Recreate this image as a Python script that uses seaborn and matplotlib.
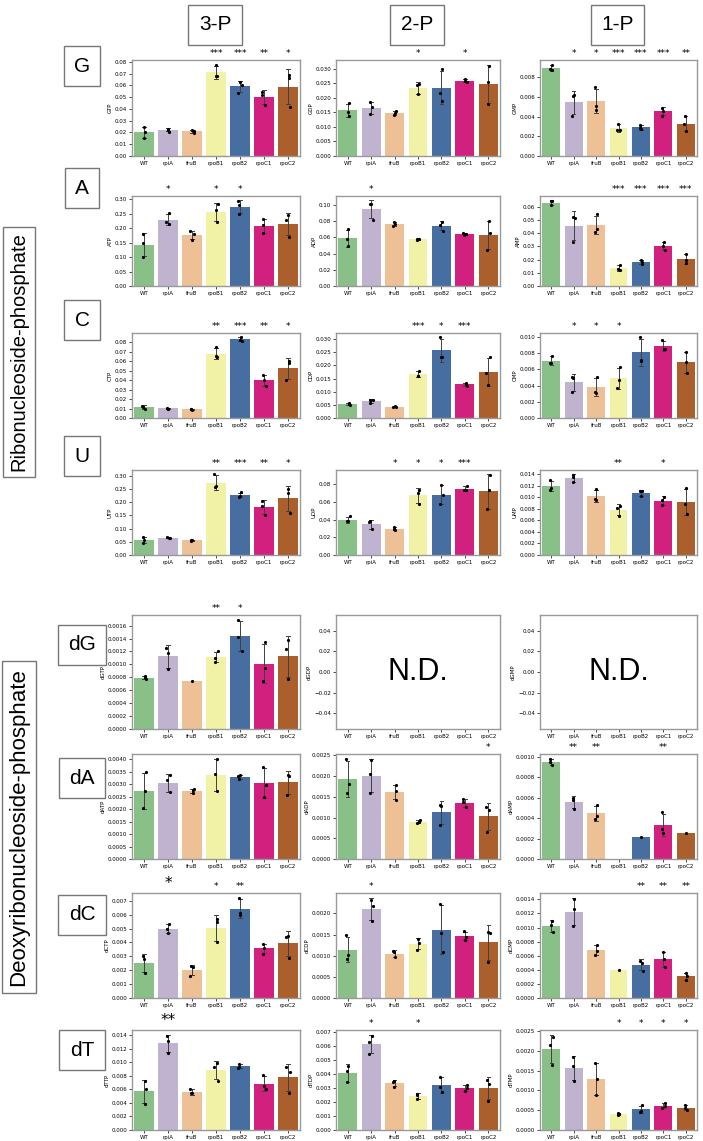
import numpy as np
import pandas as pd
import matplotlib
matplotlib.use('Agg')
import matplotlib.pyplot as plt
import seaborn as sns
from matplotlib.ticker import MultipleLocator

strains = ['WT', 'rpiA', 'fruB', 'rpoB1', 'rpoB2', 'rpoC1', 'rpoC2']

# replicate values per strain
GTP = [[0.0245, 0.0205, 0.0152], [0.0232, 0.0225, 0.0208], [0.0222, 0.0212, 0.0196], [0.0778, 0.0678, 0.0680],
       [0.0632, 0.0605, 0.0538], [0.0545, 0.0520, 0.0432], [0.0690, 0.0660, 0.0420]]
GDP = [[0.0183, 0.0150, 0.0138], [0.0185, 0.0168, 0.0143], [0.0155, 0.0148, 0.0141], [0.0246, 0.0247, 0.0212],
       [0.0300, 0.0216, 0.0190], [0.0266, 0.0258, 0.0255], [0.0311, 0.0256, 0.0180]]
GMP = [[0.0093, 0.0088, 0.0087], [0.0062, 0.0061, 0.0041], [0.0070, 0.0051, 0.0047], [0.0033, 0.0026, 0.0026],
       [0.0032, 0.0028, 0.0027], [0.0049, 0.0046, 0.0041], [0.0041, 0.0033, 0.0025]]
ATP = [[0.178, 0.150, 0.101], [0.252, 0.222, 0.214], [0.190, 0.178, 0.160], [0.283, 0.262, 0.220],
       [0.292, 0.280, 0.250], [0.230, 0.212, 0.182], [0.246, 0.226, 0.170]]
ADP = [[0.070, 0.058, 0.049], [0.1015, 0.101, 0.082], [0.079, 0.077, 0.074], [0.058, 0.0575, 0.057],
       [0.079, 0.076, 0.068], [0.065, 0.064, 0.063], [0.080, 0.065, 0.045]]
AMP = [[0.064, 0.064, 0.061], [0.052, 0.0515, 0.033], [0.054, 0.043, 0.041], [0.016, 0.0125, 0.012],
       [0.0195, 0.018, 0.0165], [0.033, 0.030, 0.0275], [0.024, 0.020, 0.017]]
CTP = [[0.013, 0.012, 0.009], [0.0105, 0.010, 0.0098], [0.010, 0.0092, 0.0087], [0.075, 0.065, 0.064],
       [0.0855, 0.082, 0.0815], [0.0455, 0.040, 0.0335], [0.060, 0.058, 0.040]]
CDP = [[0.0058, 0.0055, 0.0049], [0.0068, 0.0068, 0.0056], [0.0045, 0.0043, 0.0042], [0.0180, 0.0161, 0.0161],
       [0.0308, 0.0233, 0.0233], [0.0133, 0.0130, 0.0122], [0.0231, 0.0170, 0.0124]]
CMP = [[0.0077, 0.0068, 0.0068], [0.0051, 0.0049, 0.0032], [0.0051, 0.0032, 0.0031], [0.0063, 0.0047, 0.0037],
       [0.0100, 0.0072, 0.0071], [0.0096, 0.0085, 0.0085], [0.0082, 0.0069, 0.0056]]
UTP = [[0.068, 0.058, 0.045], [0.069, 0.066, 0.064], [0.057, 0.055, 0.053], [0.307, 0.260, 0.257],
       [0.238, 0.225, 0.220], [0.205, 0.185, 0.153], [0.250, 0.234, 0.161]]
UDP = [[0.044, 0.038, 0.038], [0.038, 0.037, 0.029], [0.0315, 0.0295, 0.0285], [0.074, 0.070, 0.058],
       [0.079, 0.068, 0.058], [0.078, 0.074, 0.073], [0.091, 0.073, 0.052]]
UMP = [[0.0130, 0.0116, 0.0112], [0.0139, 0.0135, 0.0126], [0.0114, 0.0096, 0.0095], [0.0085, 0.0082, 0.0067],
       [0.0111, 0.0110, 0.0102], [0.0101, 0.0095, 0.0086], [0.0116, 0.0088, 0.0071]]
dGTP = [[0.00082, 0.00080, 0.00077], [0.00126, 0.00118, 0.00093], [0.00075], [0.00120, 0.00110, 0.00104],
        [0.00168, 0.00143, 0.00121], [0.00134, 0.00094, 0.00075], [0.00137, 0.00124, 0.00077]]
dATP = [[0.00348, 0.00272, 0.00203], [0.00336, 0.00316, 0.00267], [0.00280, 0.00275, 0.00265],
        [0.00400, 0.00340, 0.00272], [0.00336, 0.00334, 0.00320], [0.00368, 0.00297, 0.00249],
        [0.00336, 0.00334, 0.00255]]
dADP = [[0.00241, 0.00181, 0.00158], [0.00238, 0.00206, 0.00159], [0.00178, 0.00163, 0.00143],
        [0.00093, 0.00090, 0.00087], [0.00129, 0.00128, 0.00081], [0.00145, 0.00137, 0.00125],
        [0.00126, 0.00118, 0.00065]]
dAMP = [[0.00098, 0.00095, 0.00092], [0.00060, 0.00058, 0.00049], [0.00053, 0.00042, 0.00039], [],
        [0.00022], [0.00046, 0.00029, 0.00025], [0.00025]]
dCTP = [[0.0030, 0.0028, 0.0018], [0.0053, 0.0050, 0.0047], [0.0023, 0.0022, 0.0016], [0.0057, 0.0055, 0.0040],
        [0.0072, 0.0061, 0.0060], [0.0039, 0.0036, 0.0032], [0.0045, 0.0044, 0.0029]]
dCDP = [[0.00148, 0.00102, 0.00093], [0.00232, 0.00218, 0.00182], [0.00110, 0.00109, 0.00096],
        [0.00140, 0.00130, 0.00114], [0.00223, 0.00153, 0.00108], [0.00158, 0.00145, 0.00138],
        [0.00156, 0.00154, 0.00084]]
dCMP = [[0.00109, 0.00104, 0.00093], [0.00140, 0.00126, 0.00102], [0.00075, 0.00067, 0.00061], [0.00040],
        [0.00053, 0.00050, 0.00038], [0.00065, 0.00056, 0.00044], [0.00035, 0.00031, 0.00026]]
dTTP = [[0.0072, 0.0061, 0.0038], [0.0139, 0.0131, 0.0114], [0.0061, 0.0054, 0.0054], [0.0099, 0.0093, 0.0073],
        [0.0098, 0.0093, 0.0092], [0.0081, 0.0065, 0.0060], [0.0093, 0.0085, 0.0055]]
dTDP = [[0.0046, 0.0042, 0.0034], [0.0067, 0.0063, 0.0054], [0.0035, 0.0034, 0.0031], [0.0026, 0.0025, 0.0022],
        [0.0038, 0.0031, 0.0027], [0.0032, 0.0030, 0.0028], [0.0036, 0.0033, 0.0021]]
dTMP = [[0.00235, 0.00215, 0.00165], [0.00186, 0.00161, 0.00124], [0.00169, 0.00130, 0.00089],
        [0.00044, 0.00040, 0.00038], [0.00063, 0.00048, 0.00046], [0.00069, 0.00060, 0.00056],
        [0.00064, 0.00056, 0.00050]]

# significance marks above each strain
GTP_sig = ['', '', '', '***', '***', '**', '*']
GDP_sig = ['', '', '', '*', '', '*', '']
GMP_sig = ['', '*', '*', '***', '***', '***', '**']
ATP_sig = ['', '*', '', '*', '*', '', '']
ADP_sig = ['', '*', '', '', '', '', '']
AMP_sig = ['', '', '', '***', '***', '***', '***']
CTP_sig = ['', '', '', '**', '***', '**', '*']
CDP_sig = ['', '', '', '***', '*', '***', '']
CMP_sig = ['', '*', '*', '*', '', '', '']
UTP_sig = ['', '', '', '**', '***', '**', '*']
UDP_sig = ['', '', '*', '*', '*', '***', '']
UMP_sig = ['', '', '', '**', '', '*', '']
dGTP_sig = ['', '', '', '**', '*', '', '']
dATP_sig = ['', '', '', '', '', '', '']
dADP_sig = ['', '', '', '', '', '', '*']
dAMP_sig = ['', '**', '**', '', '', '**', '']
dCTP_sig = ['', '*', '', '*', '**', '', '']
dCDP_sig = ['', '*', '', '', '', '', '']
dCMP_sig = ['', '', '', '', '**', '**', '**']
dTTP_sig = ['', '**', '', '', '', '', '']
dTDP_sig = ['', '*', '', '*', '', '', '']
dTMP_sig = ['', '', '', '*', '*', '*', '*']

big_marks = {('dCTP', 1), ('dTTP', 1)}

row_names = ['G', 'A', 'C', 'U', 'dG', 'dA', 'dC', 'dT']
col_names = ['3-P', '2-P', '1-P']

# (label, data, marks, tick step) per row, per column; None = not detected
panels = [
    [('GTP', GTP, GTP_sig, 0.01), ('GDP', GDP, GDP_sig, 0.005), ('GMP', GMP, GMP_sig, 0.002)],
    [('ATP', ATP, ATP_sig, 0.05), ('ADP', ADP, ADP_sig, 0.02), ('AMP', AMP, AMP_sig, 0.01)],
    [('CTP', CTP, CTP_sig, 0.01), ('CDP', CDP, CDP_sig, 0.005), ('CMP', CMP, CMP_sig, 0.002)],
    [('UTP', UTP, UTP_sig, 0.05), ('UDP', UDP, UDP_sig, 0.02), ('UMP', UMP, UMP_sig, 0.002)],
    [('dGTP', dGTP, dGTP_sig, 0.0002), ('dGDP', None, None, 0.02), ('dGMP', None, None, 0.02)],
    [('dATP', dATP, dATP_sig, 0.0005), ('dADP', dADP, dADP_sig, 0.0005), ('dAMP', dAMP, dAMP_sig, 0.0002)],
    [('dCTP', dCTP, dCTP_sig, 0.001), ('dCDP', dCDP, dCDP_sig, 0.0005), ('dCMP', dCMP, dCMP_sig, 0.0002)],
    [('dTTP', dTTP, dTTP_sig, 0.002), ('dTDP', dTDP, dTDP_sig, 0.001), ('dTMP', dTMP, dTMP_sig, 0.0005)],
]

W, H = 703, 1141
col_left = [132, 336, 540]
col_width = [168, 164, 157]
row_top = [60, 196, 333, 470, 615, 754, 893, 1030]
row_height = [96, 90, 85, 85, 114, 105, 105, 100]
label_y = [66, 188, 320, 456, 645, 778, 915, 1050]

np.random.seed(0)
fig = plt.figure(figsize=(W / 100, H / 100), dpi=100)


def add_ax(left, top, width, height):
    return fig.add_axes([left / W, 1 - (top + height) / H, width / W, height / H])


def style_ax(ax, label, step):
    ax.set_xlabel(None)
    ax.set_ylabel(label, fontsize=4, labelpad=1.5)
    ax.tick_params(labelsize=4, length=2, width=0.5, pad=1.5)
    ax.yaxis.set_major_locator(MultipleLocator(step))
    for sp in ax.spines.values():
        sp.set_color('#999999')
        sp.set_linewidth(1.0)


def draw_panel(ax, label, values, marks, step):
    df = pd.DataFrame([(s, v) for s, vals in zip(strains, values) for v in vals],
                      columns=['strain', 'value'])
    sns.barplot(data=df, x='strain', y='value', hue='strain', order=strains, hue_order=strains,
                palette='Accent', errorbar='sd', capsize=0.15,
                err_kws={'linewidth': 0.7, 'color': '0.25'}, legend=False, ax=ax)
    sns.stripplot(data=df, x='strain', y='value', order=strains, color='black',
                  size=2.3, jitter=0.08, ax=ax)
    ax.set_ylim(0, None)
    style_ax(ax, label, step)
    for i, m in enumerate(marks):
        if m:
            big = (label, i) in big_marks
            ax.annotate(m, xy=(i, 1), xycoords=ax.get_xaxis_transform(),
                        xytext=(0, 1.5), textcoords='offset points',
                        ha='center', va='bottom', fontsize=11 if big else 6.5)


def draw_nd(ax, label):
    ax.set_xlim(-0.5, len(strains) - 0.5)
    ax.set_xticks(range(len(strains)))
    ax.set_xticklabels(strains)
    ax.set_ylim(-0.055, 0.055)
    style_ax(ax, label, 0.02)
    ax.text(0.5, 0.5, 'N.D.', transform=ax.transAxes, ha='center', va='center',
            fontsize=22, family='Liberation Sans')


for r, row in enumerate(panels):
    for c, (label, values, marks, step) in enumerate(row):
        ax = add_ax(col_left[c], row_top[r], col_width[c], row_height[r])
        if values is None:
            draw_nd(ax, label)
        else:
            draw_panel(ax, label, values, marks, step)

box = dict(boxstyle='square,pad=0.5', fc='white', ec='#777777', lw=1.0)

# column headers
for c, name in enumerate(col_names):
    fig.text((col_left[c] + col_width[c] / 2 - 1) / W, 1 - 25 / H, name, ha='center', va='center',
             fontsize=15, family='Liberation Sans', bbox=box)

# row labels
for r, name in enumerate(row_names):
    fig.text(82 / W, 1 - label_y[r] / H, name, ha='center', va='center',
             fontsize=15, family='Liberation Sans', bbox=box)

side_box = dict(boxstyle='square,pad=0.3', fc='white', ec='#777777', lw=1.0)
fig.text(19 / W, 1 - 352 / H, 'Ribonucleoside-phosphate', rotation=90, ha='center', va='center',
         fontsize=14.5, family='Liberation Sans', bbox=side_box)
fig.text(19 / W, 1 - 827 / H, 'Deoxyribonucleoside-phosphate', rotation=90, ha='center', va='center',
         fontsize=16, family='Liberation Sans', bbox=side_box)

fig.savefig('out.png', dpi=100)
